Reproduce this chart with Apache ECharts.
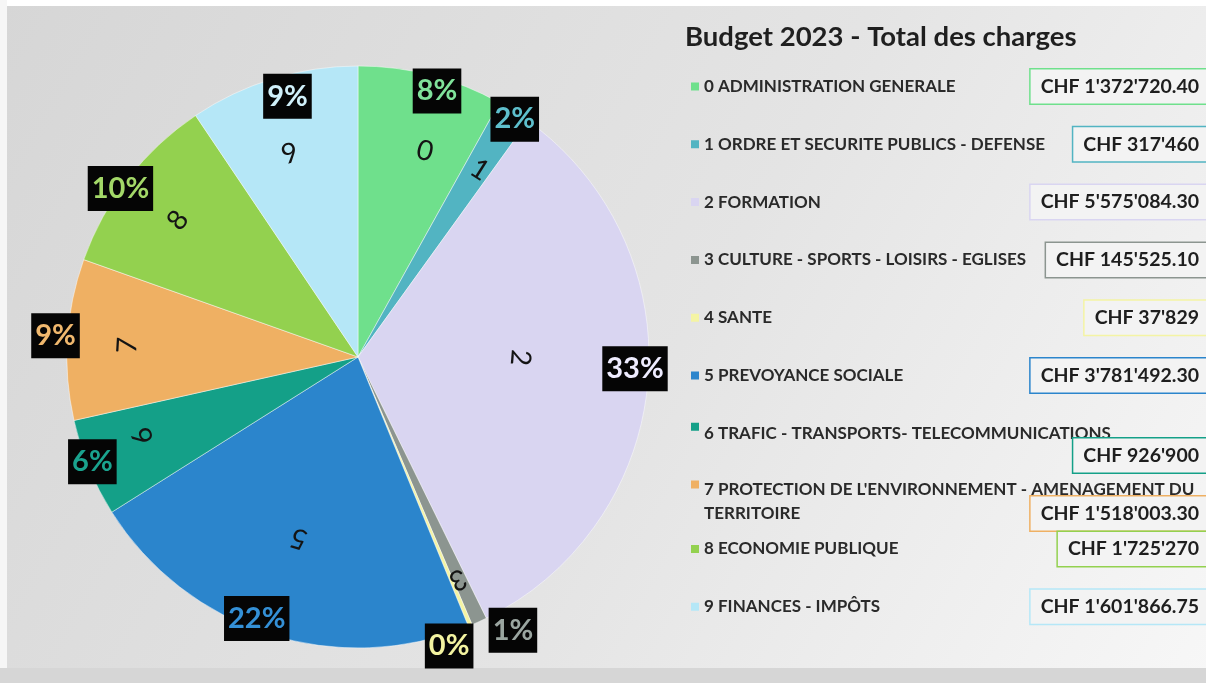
<!DOCTYPE html>
<html>
<head>
<meta charset="utf-8">
<script src="https://cdn.jsdelivr.net/npm/echarts@6/dist/echarts.min.js"></script>
<style>
html,body{margin:0;padding:0;background:#ffffff;}
#chart{width:1206px;height:683px;}
</style>
</head>
<body>
<div id="chart"></div>
<script>
// ---------------- data ----------------
const codes = ['0', '1', '2', '3', '4', '5', '6', '7', '8', '9'];
const categories = [
  '0 ADMINISTRATION GENERALE',
  '1 ORDRE ET SECURITE PUBLICS - DEFENSE',
  '2 FORMATION',
  '3 CULTURE - SPORTS - LOISIRS - EGLISES',
  '4 SANTE',
  '5 PREVOYANCE SOCIALE',
  '6 TRAFIC - TRANSPORTS- TELECOMMUNICATIONS',
  "7 PROTECTION DE L'ENVIRONNEMENT - AMENAGEMENT DU TERRITOIRE",
  '8 ECONOMIE PUBLIQUE',
  '9 FINANCES - IMPÔTS'
];
const charges = [1372720.40, 317460, 5575084.30, 145525.10, 37829, 3781492.30, 926900, 1518003.30, 1725270, 1601866.75];
const titleText = 'Budget 2023 - Total des charges';

// ---------------- styles ----------------
const sliceColors = ['#6fe08c', '#52b4c2', '#d9d5f1', '#8c9590', '#f4f4a4', '#2b85cc', '#14a088', '#efb063', '#93d14f', '#b5e7f7'];
const pctColors = ['#80e39b', '#5ebfcc', '#eeecff', '#9aa5a0', '#f3f3a0', '#3490d6', '#1aa38e', '#f0b86e', '#a3d868', '#d0f0fa'];
const CENTER = [358, 357];
const R = 291;
const NUM_R = 220;
const PCT_R = 280;
// label nudges (screen px) relative to their ring position
const numNudge = {0: [11, 10], 1: [2, 1], 2: [-60, -18], 3: [7, 20], 5: [9, -31], 6: [-9, -6], 7: [-8, 2], 8: [-4, 0], 9: [-3, 10]};
const pctNudge = {0: [8, 8], 1: [5, 1], 2: [-5, -12], 3: [37, 16], 4: [-18, 28], 5: [-15, -8], 6: [-4, -3], 7: [-20, -4], 8: [-14, 5], 9: [12, 10]};
const FONT = 'Lato, "Open Sans", sans-serif';

// ---------------- helpers ----------------
const total = charges.reduce((a, b) => a + b, 0);
let acc = 0;
const midAngles = charges.map(v => { const m = (acc + v / 2) / total * 360; acc += v; return m; });

function chf(v) {
  const isInt = Math.round(v * 100) % 100 === 0;
  const s = isInt ? String(Math.round(v)) : v.toFixed(2);
  const parts = s.split('.');
  const g = parts[0].replace(/\B(?=(\d{3})+(?!\d))/g, "'");
  return 'CHF ' + g + (parts[1] ? '.' + parts[1] : '');
}

// box on first line unless the name is long
function boxOnSecondLine(name) { return name.length > 40; }

function legendText(name) {
  const i = categories.indexOf(name);
  const box = '{v' + i + '|' + chf(charges[i]) + '}';
  if (!boxOnSecondLine(name)) return '{n|' + name + '}' + box + '\n{n| }';
  if (name.length <= 48) return '{n|' + name + '}\n' + box;
  const cut = name.lastIndexOf(' ', 48);
  return '{n|' + name.slice(0, cut) + '}\n{n|' + name.slice(cut + 1) + '}' + box;
}

const NAME_H = 23.8;
const BOX_LH = 20;
const BOX_PAD = 7;
const ITEM_H = NAME_H + BOX_LH + 2 * BOX_PAD;
const rich = { n: { fontFamily: FONT, fontSize: 17, fontWeight: 'bold', color: '#2a2a2a', lineHeight: NAME_H } };
sliceColors.forEach((c, i) => {
  rich['v' + i] = {
    fontFamily: FONT, fontSize: 19.5, fontWeight: 'bold', color: '#1e1e1e',
    lineHeight: BOX_LH, padding: [BOX_PAD, 25, BOX_PAD, 10],
    borderColor: c, borderWidth: 1.5, backgroundColor: '#f3f3f3', align: 'right'
  };
});
function iconPath(cy) {
  const h = ITEM_H;
  return 'path://M0,0h0.05v0.05h-0.05zM0,' + (cy - 4) + 'h8v8h-8zM0,' + (h - 0.05) + 'h0.05v0.05h-0.05z';
}
const legendData = categories.map(n => ({
  name: n,
  icon: boxOnSecondLine(n) ? iconPath(NAME_H / 2) : iconPath((BOX_LH + 2 * BOX_PAD) / 2)
}));

const mainData = categories.map((n, i) => ({ name: n, value: charges[i], itemStyle: { color: sliceColors[i] } }));
const numData = categories.map((n, i) => ({
  name: n, value: charges[i],
  label: { show: i !== 4, rotate: -midAngles[i] }
}));
const pctData = categories.map((n, i) => ({
  name: n, value: charges[i],
  label: { color: pctColors[i] }
}));

const ringBase = {
  type: 'pie', center: CENTER, startAngle: 90, clockwise: true, silent: true,
  avoidLabelOverlap: false, legendHoverLink: false, animation: false,
  itemStyle: { color: 'rgba(0,0,0,0)', borderWidth: 0 },
  emphasis: { disabled: true }, labelLine: { show: false }, tooltip: { show: false }
};

const option = {
  animation: false,
  title: {
    text: titleText, left: 680, top: 18,
    textStyle: { fontFamily: FONT, fontSize: 27.5, fontWeight: 'bold', color: '#1f1f1f' }
  },
  graphic: [
    { type: 'rect', z: -10, silent: true, shape: { x: 0, y: 0, width: 1206, height: 683 },
      style: { fill: { type: 'linear', x: 0, y: 0, x2: 1, y2: 1, colorStops: [
        { offset: 0, color: '#d6d6d6' }, { offset: 0.55, color: '#e4e4e4' }, { offset: 1, color: '#f7f7f7' }] } } },
    { type: 'rect', z: -9, silent: true, shape: { x: 0, y: 0, width: 1206, height: 6 }, style: { fill: '#ffffff' } },
    { type: 'rect', z: -9, silent: true, shape: { x: 0, y: 0, width: 7, height: 683 }, style: { fill: '#f6f6f6' } },
    { type: 'rect', z: -9, silent: true, shape: { x: 0, y: 668, width: 1206, height: 15 }, style: { fill: '#d6d6d6' } }
  ],
  legend: {
    orient: 'vertical', left: 686, top: 63, itemGap: -1.5, padding: 5,
    itemWidth: 8, itemHeight: ITEM_H,
    itemStyle: { borderWidth: 0 },
    selectedMode: false,
    data: legendData,
    formatter: legendText,
    textStyle: { width: 520, fontFamily: FONT, rich: rich }
  },
  series: [
    {
      name: 'Charges', type: 'pie', center: CENTER, radius: R, startAngle: 90, clockwise: true,
      data: mainData, label: { show: false }, labelLine: { show: false },
      itemStyle: { borderColor: 'rgba(255,255,255,0.45)', borderWidth: 1 },
      emphasis: { disabled: true }
    },
    Object.assign({}, ringBase, {
      name: 'codes', radius: [0, NUM_R * 2], data: numData,
      label: {
        position: 'inside', fontFamily: FONT, fontSize: 28, color: '#141414',
        formatter: p => codes[p.dataIndex]
      },
      // nudges are given in screen space; the label frame is rotated by its mid angle
      labelLayout: p => {
        const d = numNudge[p.dataIndex];
        if (!d) return {};
        const phi = midAngles[p.dataIndex] * Math.PI / 180;
        const c = Math.cos(phi), s = Math.sin(phi);
        return { dx: d[0] * c + d[1] * s, dy: -d[0] * s + d[1] * c };
      }
    }),
    Object.assign({}, ringBase, {
      name: 'pourcentages', radius: [0, PCT_R * 2], data: pctData, percentPrecision: 0,
      label: {
        position: 'inside', formatter: '{d}%', fontFamily: FONT, fontSize: 29, fontWeight: 'bold',
        backgroundColor: '#050505', padding: [6, 4, 5, 4], lineHeight: 34
      },
      labelLayout: p => { const d = pctNudge[p.dataIndex]; return d ? { dx: d[0], dy: d[1] } : {}; }
    })
  ]
};

const chart = echarts.init(document.getElementById('chart'), null, { renderer: 'canvas' });
chart.setOption(option);
</script>
</body>
</html>
